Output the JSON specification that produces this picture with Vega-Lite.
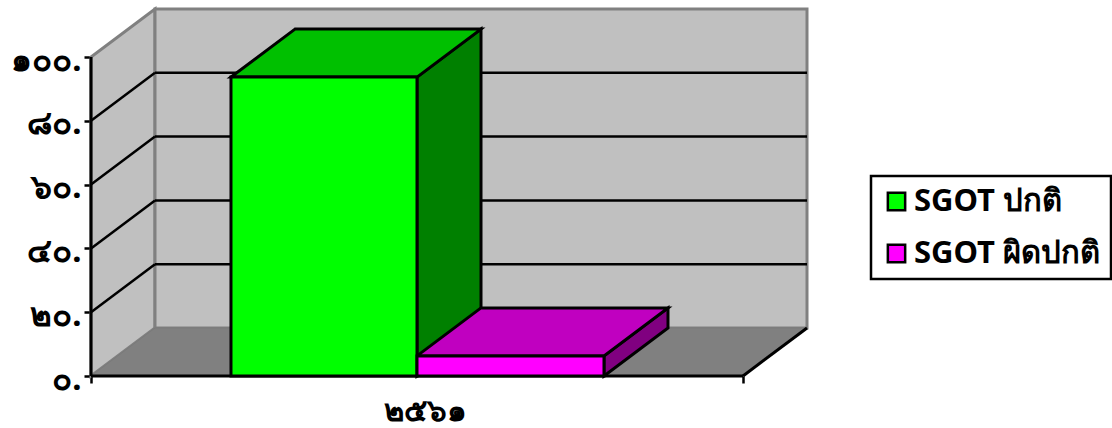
{
"$schema":"https://vega.github.io/schema/vega-lite/v6.json",
"width":716,"height":367,
"autosize":{"type":"none"},
"padding":{"left":91,"top":9,"right":305,"bottom":52},
"background":"white",
"config":{"view":{"stroke":null},"legend":{"strokeWidth":2.5}},
"encoding":{
"x":{"field":"x","type":"quantitative","title":null,"scale":{"domain":[0,109.816],"nice":false,"zero":false},
"axis":{"values":[0,50,100],"domain":false,"grid":false,"labelExpr":"datum.value==50?'๒๕๖๑':''","labelFont":"Noto Sans","labelFontWeight":"bold","labelFontSize":31,"labelColor":"black","labelPadding":13,"labelOffset":8,"tickColor":{"condition":{"test":"datum.value==50","value":"transparent"},"value":"black"},"tickWidth":2.5,"tickSize":7}},
"y":{"field":"y","type":"quantitative","title":null,"stack":null,"scale":{"domain":[0,115.05],"nice":false,"zero":false},
"axis":{"values":[0,20,40,60,80,100],"domain":false,"grid":false,"labelExpr":"{'0':'๐.','20':'๒๐.','40':'๔๐.','60':'๖๐.','80':'๘๐.','100':'๑๐๐.'}[datum.value]","labelFont":"Noto Sans","labelFontWeight":"bold","labelFontSize":33,"labelColor":"black","labelPadding":3,"labelOffset":3,"tickColor":"black","tickWidth":2.5,"tickSize":7}}
},
"layer":[
{"data":{"values":[{"x":0,"y":0,"y2":100},{"x":9.816,"y":15.05,"y2":115.05}]},"mark":{"type":"area","fill":"#c0c0c0","stroke":"#808080","strokeWidth":3},"encoding":{"y2":{"field":"y2"}}},
{"data":{"values":[{"x":9.816,"y":15.05,"y2":115.05},{"x":109.816,"y":15.05,"y2":115.05}]},"mark":{"type":"area","fill":"#c0c0c0","stroke":"#808080","strokeWidth":3},"encoding":{"y2":{"field":"y2"}}},
{"data":{"values":[{"y":0,"x":0,"x2":100},{"y":15.05,"x":9.816,"x2":109.816}]},"mark":{"type":"area","orient":"horizontal","fill":"#808080","stroke":"#7a7a7a","strokeWidth":1},"encoding":{"x2":{"field":"x2"}}},
{"data":{"values":[
{"x":0,"y":20,"x2":9.816,"y2":35.05},{"x":0,"y":40,"x2":9.816,"y2":55.05},{"x":0,"y":60,"x2":9.816,"y2":75.05},{"x":0,"y":80,"x2":9.816,"y2":95.05},
{"x":9.816,"y":35.05,"x2":109.816,"y2":35.05},{"x":9.816,"y":55.05,"x2":109.816,"y2":55.05},{"x":9.816,"y":75.05,"x2":109.816,"y2":75.05},{"x":9.816,"y":95.05,"x2":109.816,"y2":95.05}
]},"mark":{"type":"rule","color":"black","strokeWidth":2.5},"encoding":{"x2":{"field":"x2"},"y2":{"field":"y2"}}},
{"data":{"values":[{"x":0,"y":0,"x2":0,"y2":100},{"x":0,"y":0,"x2":100,"y2":0},{"x":100,"y":0,"x2":109.816,"y2":15.05}]},"mark":{"type":"rule","color":"black","strokeWidth":3},"encoding":{"x2":{"field":"x2"},"y2":{"field":"y2"}}},
{"data":{"values":[{"x":50,"y":0,"y2":93.7},{"x":59.816,"y":15.05,"y2":108.75}]},"mark":{"type":"area","fill":"#008000","stroke":"black","strokeWidth":3},"encoding":{"y2":{"field":"y2"}}},
{"data":{"values":[{"y":93.7,"x":21.47,"x2":50},{"y":108.75,"x":31.286,"x2":59.816}]},"mark":{"type":"area","orient":"horizontal","fill":"#00c000","stroke":"black","strokeWidth":3},"encoding":{"x2":{"field":"x2"}}},
{"data":{"values":[{"x":78.68,"y":0,"y2":6.3},{"x":88.496,"y":15.05,"y2":21.35}]},"mark":{"type":"area","fill":"#800080","stroke":"black","strokeWidth":3},"encoding":{"y2":{"field":"y2"}}},
{"data":{"values":[{"y":6.3,"x":50,"x2":78.68},{"y":21.35,"x":59.816,"x2":88.496}]},"mark":{"type":"area","orient":"horizontal","fill":"#c000c0","stroke":"black","strokeWidth":3},"encoding":{"x2":{"field":"x2"}}},
{"data":{"values":[{"series":"SGOT ปกติ","x":21.47,"x2":50,"y":0,"y2":93.7},{"series":"SGOT ผิดปกติ","x":50,"x2":78.68,"y":0,"y2":6.3}]},
"mark":{"type":"rect","stroke":"black","strokeWidth":3},
"encoding":{"x2":{"field":"x2"},"y2":{"field":"y2"},
"color":{"field":"series","type":"nominal","scale":{"domain":["SGOT ปกติ","SGOT ผิดปกติ"],"range":["#00ff00","#ff00ff"]},
"legend":{"title":null,"orient":"none","legendX":780,"legendY":167,"padding":10,"strokeColor":"black","fillColor":"white","symbolType":"square","symbolSize":300,"symbolStrokeColor":"black","symbolStrokeWidth":2.5,"symbolOpacity":1,"labelFont":"Noto Sans","labelFontWeight":"bold","labelFontSize":31,"labelColor":"black","labelLimit":300,"rowPadding":20,"labelOffset":2}}}}
]
}
